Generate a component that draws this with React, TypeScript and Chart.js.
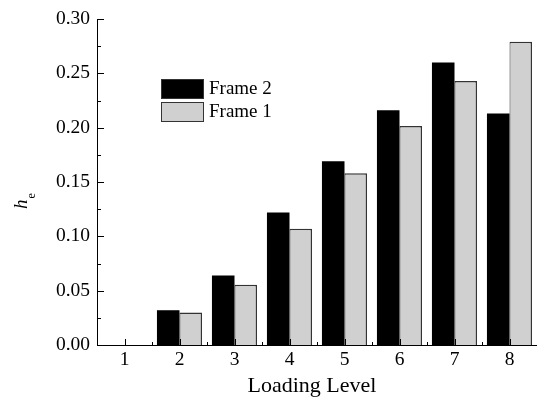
import React, { useEffect, useRef } from "react";
import { Chart, registerables } from "chart.js";

Chart.register(...registerables);

const categories = ["1", "2", "3", "4", "5", "6", "7", "8"];
const frame2 = [0, 0.032, 0.064, 0.122, 0.169, 0.216, 0.26, 0.213];
const frame1 = [0, 0.030, 0.0555, 0.107, 0.158, 0.2015, 0.243, 0.279];
const yTicks = [0, 0.05, 0.1, 0.15, 0.2, 0.25, 0.3];

const FONT = "'Liberation Serif', 'Times New Roman', serif";

const customDraw = {
  id: "customDraw",
  afterDraw(chart: any) {
    const ctx = chart.ctx;
    const x = chart.scales.x;
    const y = chart.scales.y;
    const left = chart.chartArea.left;
    const right = chart.chartArea.right;
    const top = chart.chartArea.top;
    const bottom = chart.chartArea.bottom;
    ctx.save();
    ctx.strokeStyle = "#000";
    ctx.lineWidth = 1;
    // axes
    ctx.beginPath();
    ctx.moveTo(left + 0.5, top);
    ctx.lineTo(left + 0.5, bottom + 0.5);
    ctx.lineTo(right, bottom + 0.5);
    ctx.stroke();
    // y ticks (inward)
    for (let i = 0; i <= 12; i++) {
      const v = i * 0.025;
      const py = Math.round(y.getPixelForValue(v)) + 0.5;
      const len = i % 2 === 0 ? 7 : 4;
      ctx.beginPath();
      ctx.moveTo(left, py);
      ctx.lineTo(left + len, py);
      ctx.stroke();
    }
    // x ticks
    for (let i = 0; i < categories.length; i++) {
      const px = Math.round(x.getPixelForValue(i)) + 0.5;
      ctx.beginPath();
      ctx.moveTo(px, bottom);
      ctx.lineTo(px, bottom - 6);
      ctx.stroke();
      const bx = Math.round(x.getPixelForValue(i + 0.5)) + 0.5;
      ctx.beginPath();
      ctx.moveTo(bx, bottom);
      ctx.lineTo(bx, bottom - 3);
      ctx.stroke();
    }
    // y title h_e
    ctx.fillStyle = "#000";
    ctx.translate(27, 209);
    ctx.rotate(-Math.PI / 2);
    ctx.textBaseline = "alphabetic";
    ctx.textAlign = "left";
    ctx.font = `italic 19px ${FONT}`;
    ctx.fillText("h", 0, 0);
    const w = ctx.measureText("h").width;
    ctx.font = `12px ${FONT}`;
    ctx.fillText("e", w + 1, 8);
    ctx.setTransform(1, 0, 0, 1, 0, 0);
    // legend
    const items = [
      { label: "Frame 2", fill: "#000000" },
      { label: "Frame 1", fill: "#d0d0d0" },
    ];
    items.forEach((it, i) => {
      const bx = 161;
      const by = 79 + i * 23;
      ctx.fillStyle = it.fill;
      ctx.fillRect(bx, by, 43, 20);
      ctx.strokeStyle = "#333";
      ctx.lineWidth = 1;
      ctx.strokeRect(bx + 0.5, by + 0.5, 42, 19);
      ctx.fillStyle = "#000";
      ctx.font = `19px ${FONT}`;
      ctx.textBaseline = "middle";
      ctx.fillText(it.label, 209, by + 10);
    });
    // x title
    ctx.font = `22px ${FONT}`;
    ctx.textAlign = "center";
    ctx.textBaseline = "middle";
    ctx.fillText("Loading Level", 312, 386);
    ctx.restore();
  },
};

export default function App() {
  const ref = useRef<HTMLCanvasElement | null>(null);
  useEffect(() => {
    if (!ref.current) return;
    const chart = new Chart(ref.current, {
      type: "bar",
      data: {
        labels: categories,
        datasets: [
          {
            label: "Frame 2",
            data: frame2,
            backgroundColor: "#000000",
            borderColor: "#000000",
            borderWidth: 0,
            categoryPercentage: 0.82,
            barPercentage: 1,
          },
          {
            label: "Frame 1",
            data: frame1,
            backgroundColor: "#d0d0d0",
            borderColor: "#333333",
            borderWidth: { top: 1.5, left: 1, right: 1.5, bottom: 0 },
            borderSkipped: false,
            categoryPercentage: 0.82,
            barPercentage: 1,
          },
        ],
      },
      options: {
        responsive: false,
        animation: false,
        devicePixelRatio: 1,
        layout: { padding: { top: 19, right: 0, left: 0, bottom: 0 } },
        plugins: { legend: { display: false }, tooltip: { enabled: false } },
        scales: {
          x: {
            grid: { display: false, drawTicks: false },
            border: { display: false },
            ticks: {
              color: "#000",
              font: { family: FONT, size: 19.5 },
              padding: 3,
            },
            afterFit: (s: any) => {
              s.height = 57;
            },
          },
          y: {
            min: 0,
            max: 0.3,
            grid: { display: false, drawTicks: false },
            border: { display: false },
            afterBuildTicks: (s: any) => {
              s.ticks = yTicks.map((v) => ({ value: v }));
            },
            ticks: {
              color: "#000",
              font: { family: FONT, size: 19.5 },
              padding: 7,
              callback: (v: any) => Number(v).toFixed(2),
            },
            afterFit: (s: any) => {
              s.width = 97;
            },
          },
        },
      },
      plugins: [customDraw],
    });
    return () => chart.destroy();
  }, []);
  return (
    <canvas
      ref={ref}
      width={537}
      height={402}
      style={{ position: "absolute", left: 0, top: 0, width: 537, height: 402 }}
    />
  );
}
